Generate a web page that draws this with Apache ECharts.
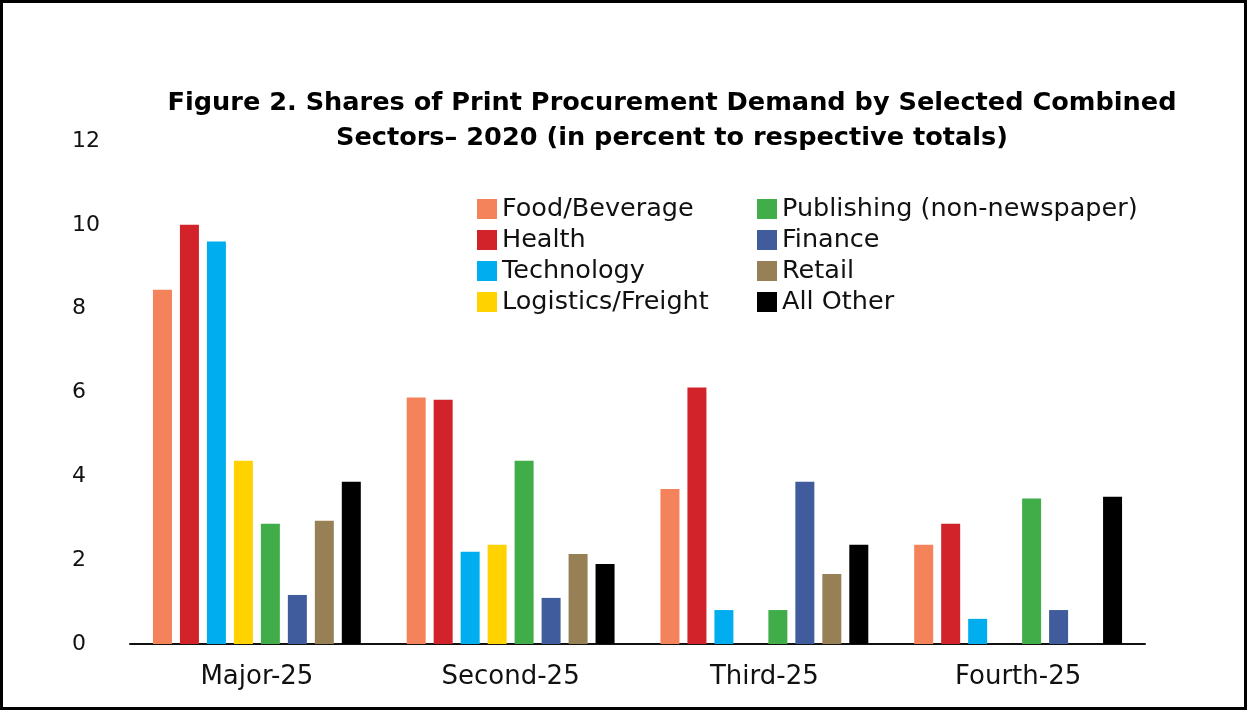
<!DOCTYPE html>
<html>
<head>
<meta charset="utf-8">
<script src="https://cdn.jsdelivr.net/npm/echarts@6/dist/echarts.min.js"></script>
<style>
html,body{margin:0;padding:0;background:#fff;}
#frame{position:absolute;left:0;top:0;width:1247px;height:710px;box-sizing:border-box;border:3px solid #000;}
#chart{position:absolute;left:0;top:0;width:1247px;height:710px;}
</style>
</head>
<body>
<div id="frame"></div>
<div id="chart"></div>
<script>
const categories = ['Major-25', 'Second-25', 'Third-25', 'Fourth-25'];
const seriesNames = ['Food/Beverage', 'Health', 'Technology', 'Logistics/Freight', 'Publishing (non-newspaper)', 'Finance', 'Retail', 'All Other'];
const foodBeverage = [8.45, 5.88, 3.7, 2.37];
const health = [10.0, 5.83, 6.12, 2.87];
const technology = [9.6, 2.2, 0.81, 0.6];
const logistics = [4.37, 2.37, 0, 0];
const publishing = [2.87, 4.37, 0.81, 3.47];
const finance = [1.17, 1.1, 3.87, 0.81];
const retail = [2.94, 2.15, 1.67, 0];
const allOther = [3.87, 1.91, 2.37, 3.51];
const yTicks = [0, 2, 4, 6, 8, 10, 12];
const values = [foodBeverage, health, technology, logistics, publishing, finance, retail, allOther];
const colors = ['#F4825A', '#D2232A', '#00AEEF', '#FFD200', '#41AD49', '#405C9C', '#978056', '#000000'];

const chart = echarts.init(document.getElementById('chart'));
const fontFam = 'DejaVu Sans';
const legendCommon = {
  orient: 'vertical', itemWidth: 20, itemHeight: 20, itemGap: 5,
  icon: 'rect', textStyle: { fontFamily: fontFam, fontSize: 25.5, color: '#111' }
};
chart.setOption({
  animation: false,
  title: {
    text: 'Figure 2. Shares of Print Procurement Demand by Selected Combined\nSectors\u2013 2020 (in percent to respective totals)',
    left: 667, top: 81, textAlign: 'center',
    textStyle: { fontFamily: fontFam, fontSize: 25.6, fontWeight: 'bold', color: '#000', lineHeight: 35 }
  },
  legend: [
    Object.assign({ left: 472, top: 191, data: seriesNames.slice(0, 4) }, legendCommon),
    Object.assign({ left: 752, top: 191, data: seriesNames.slice(4) }, legendCommon)
  ],
  grid: { left: 130, right: 102, top: 141, bottom: 66 },
  xAxis: {
    type: 'category', data: categories,
    axisLine: { lineStyle: { color: '#111', width: 2 } },
    axisTick: { show: false },
    axisLabel: { fontFamily: fontFam, fontSize: 26, color: '#111', margin: 20 }
  },
  yAxis: {
    type: 'value', min: yTicks[0], max: yTicks[yTicks.length - 1], interval: 2,
    axisLine: { show: false }, axisTick: { show: false }, splitLine: { show: false },
    axisLabel: { fontFamily: fontFam, fontSize: 22, color: '#111', align: 'left', margin: 58 }
  },
  series: seriesNames.map((n, i) => ({
    name: n, type: 'bar', data: values[i], barWidth: 19, barGap: '42%',
    itemStyle: { color: colors[i] }
  }))
});
</script>
</body>
</html>
